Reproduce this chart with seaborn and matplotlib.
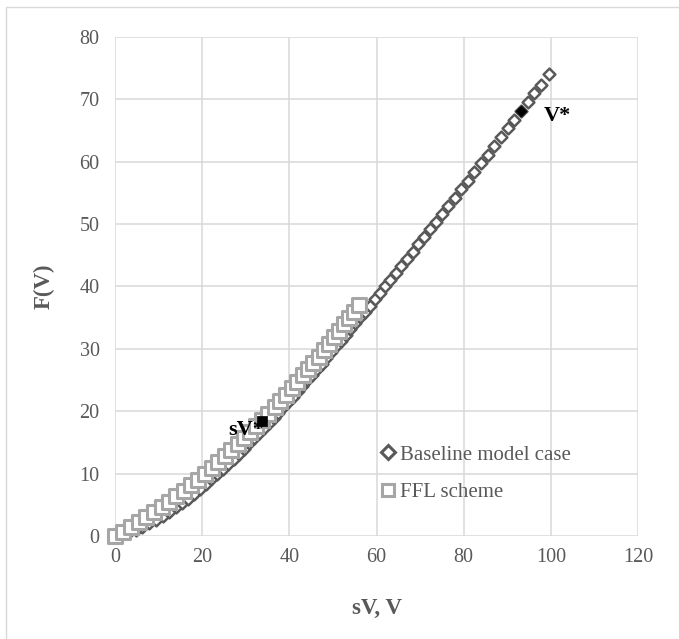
import matplotlib
matplotlib.use("Agg")
import matplotlib.pyplot as plt
from matplotlib.lines import Line2D
from matplotlib.patches import Rectangle
import seaborn as sns
import pandas as pd

# Baseline model case: F(V) against sV
base_x = [0, 1.5, 3.1, 4.7, 6.3, 7.9, 9.4, 10.9, 12.4, 13.9, 15.3, 16.7, 18.1, 19.5,
          20.8, 22.1, 23.4, 24.7, 26.0, 27.2, 28.4, 29.6, 30.8, 32.0, 33.1, 34.2,
          35.3, 36.4, 37.5, 38.6, 39.7, 40.8, 41.9, 43.0, 44.1, 45.2, 46.3, 47.4,
          48.5, 49.6, 50.7, 51.8, 52.9, 54.0, 55.1, 56.2, 57.3, 58.4, 59.6, 60.8,
          62.0, 63.2, 64.4, 65.7, 67.0, 68.3, 69.6, 70.9, 72.3, 73.7, 75.1, 76.5,
          77.9, 79.4, 80.9, 82.4, 84.0, 85.5, 87.0, 88.6, 90.1, 91.6, 93.2, 94.7,
          96.2, 97.7, 99.5]
base_y = [0, 0.25, 0.59, 1.01, 1.49, 2.03, 2.60, 3.21, 3.88, 4.58, 5.27, 6.00, 6.76,
          7.55, 8.31, 9.10, 9.90, 10.73, 11.58, 12.37, 13.19, 14.02, 14.86, 15.71,
          16.51, 17.31, 18.13, 18.96, 19.79, 20.63, 21.48, 22.34, 23.21, 24.08,
          24.97, 25.85, 26.74, 27.65, 28.55, 29.46, 30.38, 31.30, 32.22, 33.15,
          34.09, 35.03, 35.97, 36.92, 37.96, 39.00, 40.05, 41.10, 42.15, 43.30,
          44.45, 45.60, 46.75, 47.91, 49.17, 50.42, 51.68, 52.94, 54.21, 55.57,
          56.93, 58.29, 59.75, 61.12, 62.49, 63.96, 65.34, 66.71, 68.19, 69.57,
          70.95, 72.34, 74.00]

# FFL scheme
ffl_x = [0, 1.8, 3.6, 5.4, 7.2, 9.0, 10.7, 12.4, 14.1, 15.8, 17.4, 19.0, 20.6, 22.2,
         23.7, 25.2, 26.7, 28.2, 29.6, 31.0, 32.4, 33.8, 35.2, 36.6, 37.9, 39.2,
         40.5, 41.8, 43.1, 44.3, 45.5, 46.7, 47.9, 49.1, 50.3, 51.5, 52.6, 53.7,
         54.8, 55.9]
ffl_y = [0, 0.70, 1.43, 2.19, 2.99, 3.82, 4.63, 5.48, 6.35, 7.25, 8.12, 9.02, 9.95,
         10.90, 11.82, 12.76, 13.72, 14.71, 15.65, 16.61, 17.59, 18.59, 19.61,
         20.65, 21.63, 22.63, 23.65, 24.68, 25.74, 26.72, 27.72, 28.74, 29.77,
         30.81, 31.87, 32.94, 33.94, 34.95, 35.97, 37.00]

# Highlighted points
vstar_x, vstar_y = [93.2], [68.1]
sv_x, sv_y = [33.7], [18.4]

x_ticks = [0, 20, 40, 60, 80, 100, 120]
y_ticks = [0, 10, 20, 30, 40, 50, 60, 70, 80]

sns.set_style("white")
plt.rcParams["font.family"] = ["Liberation Serif", "DejaVu Serif"]

TEXT = "#595959"
GRID = "#D9D9D9"
BASE_C = "#595959"
FFL_C = "#A6A6A6"

fig = plt.figure(figsize=(6.79, 6.39), dpi=100)
ax = fig.add_axes([0.1694, 0.1612, 0.7702, 0.7809])

# chart area border
fig.patches.append(Rectangle((6 / 679, -0.1), 1.2, 1.0 - 7 / 639 + 0.1,
                             transform=fig.transFigure, fill=False,
                             edgecolor=GRID, linewidth=1.0, zorder=0))

base_df = pd.DataFrame({"sV": base_x, "F": base_y})
ffl_df = pd.DataFrame({"sV": ffl_x, "F": ffl_y})

sns.scatterplot(data=base_df, x="sV", y="F", marker="D", s=36, facecolor="white",
                edgecolor=BASE_C, linewidth=1.8, ax=ax, zorder=3, clip_on=False)
sns.scatterplot(data=ffl_df, x="sV", y="F", marker="s", s=115, facecolor="white",
                edgecolor=FFL_C, linewidth=2.2, ax=ax, zorder=4, clip_on=False)

sns.scatterplot(x=vstar_x, y=vstar_y, marker="D", s=32, color="black",
                edgecolor="black", linewidth=0.5, ax=ax, zorder=6)
ax.text(98.3, 67.4, "V*", fontsize=16, fontweight="bold", color="black",
        ha="left", va="center", zorder=7)

ax.text(25.9, 17.0, "sV*", fontsize=16, fontweight="bold", color="black",
        ha="left", va="center", zorder=5)
sns.scatterplot(x=sv_x, y=sv_y, marker="s", s=45, color="black",
                edgecolor="black", linewidth=0.5, ax=ax, zorder=6)

ax.set_xlim(0, 120)
ax.set_ylim(0, 80)
ax.set_xticks(x_ticks)
ax.set_yticks(y_ticks)
ax.grid(True, color=GRID, linewidth=1.1)
ax.set_axisbelow(True)
for sp in ax.spines.values():
    sp.set_visible(False)
ax.tick_params(axis="both", length=0, labelsize=14.5, labelcolor=TEXT)
ax.tick_params(axis="x", pad=9)
ax.tick_params(axis="y", pad=11)

ax.set_xlabel("sV, V", fontsize=16.5, fontweight="bold", color=TEXT, labelpad=22)
ax.set_ylabel("F(V)", fontsize=16.5, fontweight="bold", color=TEXT, labelpad=18)

handles = [
    Line2D([], [], linestyle="none", marker="D", markersize=7.5, markeredgewidth=2.2,
           markeredgecolor=BASE_C, markerfacecolor="white"),
    Line2D([], [], linestyle="none", marker="s", markersize=9, markeredgewidth=2.2,
           markeredgecolor=FFL_C, markerfacecolor="white"),
]
leg = ax.legend(handles, ["Baseline model case", "FFL scheme"], loc="upper left",
                bbox_to_anchor=(0.507, 0.182), frameon=False, fontsize=15,
                handlelength=0.8, handletextpad=0.15, borderpad=0, borderaxespad=0,
                labelspacing=0.85)
for t in leg.get_texts():
    t.set_color(TEXT)

fig.savefig("out.png", dpi=100)
